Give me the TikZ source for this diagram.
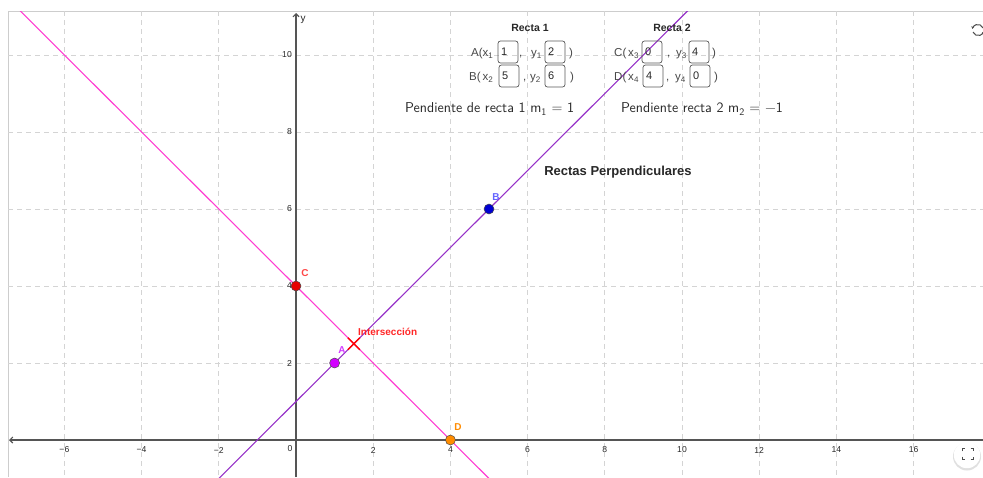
\documentclass[tikz,border=0pt]{standalone}
\usepackage{fontspec}
\setmainfont{Liberation Sans}
\usetikzlibrary{arrows.meta}
\definecolor{gridc}{RGB}{212,212,212}
\definecolor{framec}{RGB}{205,205,205}
\definecolor{axisc}{RGB}{85,85,85}
\definecolor{lineone}{RGB}{150,50,200}
\definecolor{linetwo}{RGB}{255,60,210}
\definecolor{ptA}{RGB}{210,0,255}
\definecolor{ptB}{RGB}{0,0,210}
\definecolor{ptC}{RGB}{230,0,0}
\definecolor{ptD}{RGB}{255,140,0}
\definecolor{lblA}{RGB}{210,60,255}
\definecolor{lblB}{RGB}{100,100,255}
\definecolor{lblC}{RGB}{255,70,70}
\definecolor{lblD}{RGB}{255,140,0}
\definecolor{txt}{RGB}{40,40,40}
\begin{document}
\begin{tikzpicture}[x=1pt,y=-1pt,
  gridline/.style={gridc, dash pattern=on 5pt off 4pt, line width=0.9pt},
  axisline/.style={axisc, line width=1.1pt},
  ticklbl/.style={font=\fontsize{8.6}{10}\selectfont, text=txt, inner sep=0pt},
  valbox/.style={draw=black!65, rounded corners=2.5pt, line width=0.7pt, minimum height=22pt,
    text width=14pt, align=left, inner xsep=3pt, inner ysep=0pt, font=\fontsize{11}{13}\selectfont, text=txt},
  rowtxt/.style={font=\fontsize{11.5}{13}\selectfont, inner sep=0pt, anchor=base west, text=txt!85!white},
  dot/.style={circle, draw=black!70, line width=0.5pt, minimum size=10pt, inner sep=0pt},
  ptlabel/.style={font=\bfseries\fontsize{10}{12}\selectfont, inner sep=0pt},
  headlbl/.style={font=\bfseries\fontsize{10.5}{12}\selectfont, text=txt, inner sep=0pt},
  slopetxt/.style={font=\sffamily\fontsize{14.3}{16}\selectfont, text=txt, inner sep=0pt, anchor=west}
]
\useasboundingbox (0,0) rectangle (983,477);
\fill[white] (0,0) rectangle (983,477);
% frame
\draw[framec, line width=0.8pt] (8,477) -- (8,11) -- (983,11);
% grid
\foreach \k in {-6,-4,-2,2,4,6,8,10,12,14,16}{
  \draw[gridline] ({296+\k*38.6},11) -- ({296+\k*38.6},477);
}
\foreach \k in {2,4,6,8,10}{
  \draw[gridline] (8,{440-\k*38.5}) -- (983,{440-\k*38.5});
}
% axes
\coordinate (xl) at (9,440);
\coordinate (xr) at (983,440);
\coordinate (yb) at (296,477);
\coordinate (yt) at (296,13);
\draw[axisline, {Straight Barb[length=3pt,width=6pt]}-] (xl) -- (xr);
\draw[axisline, -{Straight Barb[length=3pt,width=6pt]}] (yb) -- (yt);
\node[ticklbl, font=\fontsize{10}{11}\selectfont] (ylab) at (303,20) {y};
% tick labels
\foreach \k/\t in {-6/−6,-4/−4,-2/−2,2/2,4/4,6/6,8/8,10/10,12/12,14/14,16/16}{
  \node[ticklbl] at ({296+\k*38.6},450) {\t};
}
\node[ticklbl] (zero) at (290,449) {0};
\foreach \k in {2,4,6,8,10}{
  \node[ticklbl, anchor=east] at (292,{440-\k*38.5}) {\k};
}
% lines and points
\begin{scope}
\clip (8,11) rectangle (983,477);
\begin{scope}[shift={(296,440)}, x=38.6pt, y=38.5pt]
  \coordinate (L1s) at (-2.5,-1.5);
  \coordinate (L1e) at (10.8,11.8);
  \coordinate (L2s) at (-7.8,11.8);
  \coordinate (L2e) at (5.5,-1.5);
  \draw[lineone, line width=1.1pt] (L1s) -- (L1e);
  \draw[linetwo, line width=1.1pt] (L2s) -- (L2e);
  \coordinate (I) at (1.5,2.5);
  \draw[red, line width=1.5pt] ([shift={(-6pt,-6pt)}]I) -- ([shift={(6pt,6pt)}]I);
  \draw[red, line width=1.5pt] ([shift={(-6pt,6pt)}]I) -- ([shift={(6pt,-6pt)}]I);
  \node[dot, fill=ptA] (A) at (1,2) {};
  \node[dot, fill=ptB] (B) at (5,6) {};
  \node[dot, fill=ptC] (C) at (0,4) {};
  \node[dot, fill=ptD] (D) at (4,0) {};
\end{scope}
\end{scope}
\node[ptlabel, text=lblA] (Alab) at (342,350) {A};
\node[ptlabel, text=lblB] (Blab) at (496,197) {B};
\node[ptlabel, text=lblC] (Clab) at (305,273) {C};
\node[ptlabel, text=lblD] (Dlab) at (458,427) {D};
\node[ptlabel, text=red!85!white, anchor=west] (Ilab) at (358,332) {Intersección};
% headers
\node[headlbl] (r1) at (530,28) {Recta 1};
\node[headlbl] (r2) at (672,28) {Recta 2};
% Recta 1 rows
\node[rowtxt] (a1) at (471,56.5) {A(x\textsubscript{1}};
\node[valbox] (bx1) at (508,52) {1};
\node[rowtxt] (a2) at (519,56.5) {,};
\node[rowtxt] (a2y) at (531,56.5) {y\textsubscript{1}};
\node[valbox] (by1) at (555,52) {2};
\node[rowtxt] (a3) at (569,56.5) {)};
\node[rowtxt] (b1) at (469,80.5) {B(\,x\textsubscript{2}};
\node[valbox] (bx2) at (509,76) {5};
\node[rowtxt] (b2) at (523,80.5) {,};
\node[rowtxt] (b2y) at (530,80.5) {y\textsubscript{2}};
\node[valbox] (by2) at (555,76) {6};
\node[rowtxt] (b3) at (570,80.5) {)};
% Recta 2 rows
\node[rowtxt] (c1) at (614,56.5) {C(\,x\textsubscript{3}};
\node[valbox] (bx3) at (652,52) {0};
\node[rowtxt] (c2) at (667,56.5) {,};
\node[rowtxt] (c2y) at (676,56.5) {y\textsubscript{3}};
\node[valbox] (by3) at (699,52) {4};
\node[rowtxt] (c3) at (712,56.5) {)};
\node[rowtxt] (d1) at (614,80.5) {D(\,x\textsubscript{4}};
\node[valbox] (bx4) at (653,76) {4};
\node[rowtxt] (d2) at (666,80.5) {,};
\node[rowtxt] (d2y) at (675,80.5) {y\textsubscript{4}};
\node[valbox] (by4) at (700,76) {0};
\node[rowtxt] (d3) at (714,80.5) {)};
% slopes
\node[slopetxt] (s1) at (405,109) {Pendiente de recta 1 m\textsubscript{1} = 1};
\node[slopetxt] (s2) at (621,109) {Pendiente recta 2 m\textsubscript{2} = −1};
% title
\node[font=\bfseries\fontsize{13}{15}\selectfont, text=txt, inner sep=0pt] (title) at (618,172) {Rectas Perpendiculares};
% refresh icon
\begin{scope}[shift={(978,30)}, y=1pt]
  \draw[black!70, line width=1pt, -{Stealth[length=2.5pt,width=3pt]}] (5,2) arc (20:170:5.5);
  \draw[black!70, line width=1pt, -{Stealth[length=2.5pt,width=3pt]}] (-5,-2) arc (200:350:5.5);
\end{scope}
% fullscreen button
\fill[black!12] (967,456.5) circle (14);
\fill[white] (967,455) circle (13.2);
\node[inner sep=0pt, minimum size=11pt] (fs) at (968,454) {};
\draw[black!70, line width=0.9pt] ([shift={(0,3)}]fs.north west) -- (fs.north west) -- ([shift={(3,0)}]fs.north west);
\draw[black!70, line width=0.9pt] ([shift={(-3,0)}]fs.north east) -- (fs.north east) -- ([shift={(0,3)}]fs.north east);
\draw[black!70, line width=0.9pt] ([shift={(0,-3)}]fs.south west) -- (fs.south west) -- ([shift={(3,0)}]fs.south west);
\draw[black!70, line width=0.9pt] ([shift={(-3,0)}]fs.south east) -- (fs.south east) -- ([shift={(0,-3)}]fs.south east);
\end{tikzpicture}
\end{document}
